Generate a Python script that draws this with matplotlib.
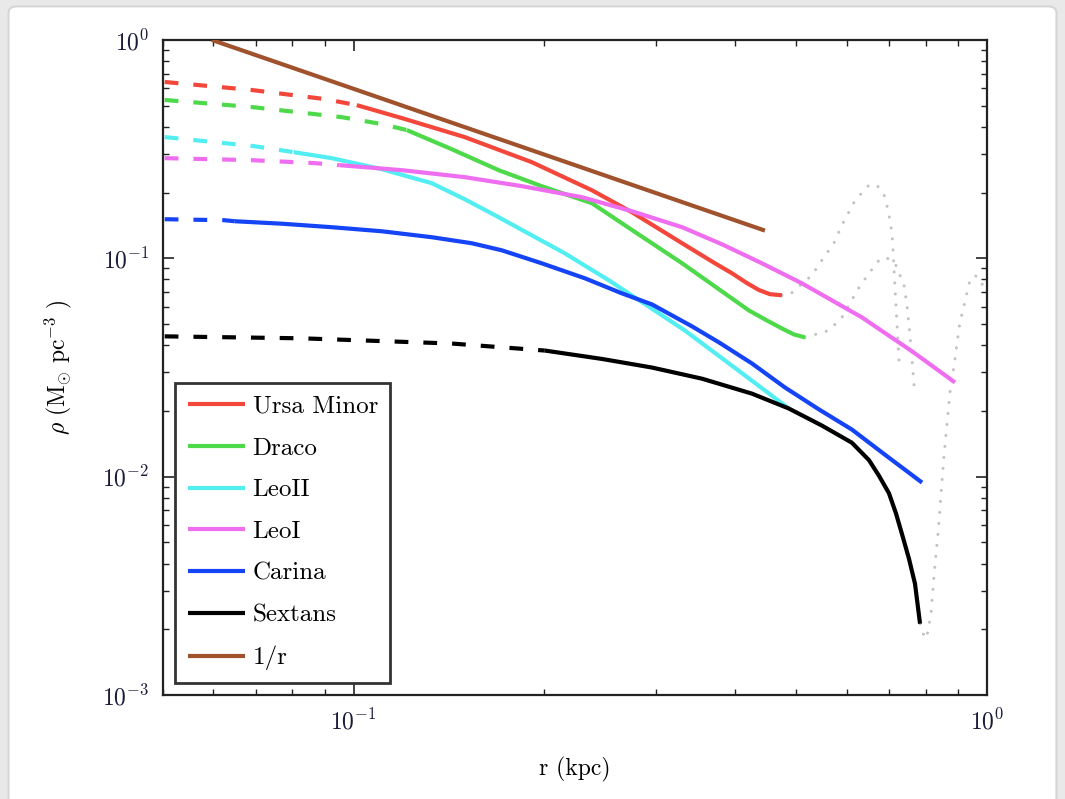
import matplotlib
matplotlib.use("Agg")
import matplotlib.pyplot as plt
from matplotlib.patches import FancyBboxPatch

plt.rcParams['font.family'] = 'serif'
plt.rcParams['font.serif'] = ['cmr10', 'DejaVu Serif']
plt.rcParams['mathtext.fontset'] = 'cm'
plt.rcParams['axes.formatter.use_mathtext'] = True

# ---------------- data (r in kpc, rho in Msun/pc^3) ----------------
labels = ["Ursa Minor", "Draco", "LeoII", "LeoI", "Carina", "Sextans", "1/r"]
colors = ["#f2473a", "#4ed94a", "#52eef2", "#ef6ef0", "#1444f5", "#000000", "#a0522d"]

# Ursa Minor
r_um_ext = [0.0503, 0.069, 0.090, 0.1011]
rho_um_ext = [0.642, 0.590, 0.536, 0.503]
r_um = [0.1011, 0.1191, 0.1497, 0.191, 0.2377, 0.2749, 0.330, 0.3718, 0.3956,
        0.4177, 0.4362, 0.454, 0.4745]
rho_um = [0.503, 0.4387, 0.359, 0.2757, 0.205, 0.1626, 0.1172, 0.0949, 0.0854,
          0.0770, 0.0716, 0.0685, 0.0677]
r_um_tail = [0.4745, 0.4866, 0.529, 0.5485, 0.573, 0.590, 0.619, 0.651, 0.670,
             0.688, 0.698, 0.708, 0.726]
rho_um_tail = [0.0677, 0.0677, 0.0836, 0.0979, 0.1172, 0.1417, 0.1845, 0.2163,
               0.2163, 0.1945, 0.166, 0.1302, 0.0340]

# Draco
r_dr_ext = [0.0503, 0.069, 0.0957, 0.1107, 0.1213]
rho_dr_ext = [0.531, 0.493, 0.443, 0.412, 0.3866]
r_dr = [0.1213, 0.1428, 0.1694, 0.198, 0.2377, 0.280, 0.330, 0.4207, 0.4492,
        0.4745, 0.4956, 0.516]
rho_dr = [0.3866, 0.316, 0.2533, 0.214, 0.1788, 0.1302, 0.0949, 0.0577, 0.0519,
          0.0477, 0.0448, 0.0434]
r_dr_tail = [0.516, 0.5627, 0.590, 0.6075, 0.628, 0.651, 0.675, 0.692, 0.7157,
             0.7395, 0.7475, 0.7557, 0.767]
rho_dr_tail = [0.0434, 0.0467, 0.0536, 0.0622, 0.0736, 0.0854, 0.0979, 0.1011,
               0.0949, 0.0752, 0.0609, 0.0443, 0.0262]

# LeoII
r_l2_ext = [0.0503, 0.0695, 0.0804]
rho_l2_ext = [0.359, 0.3265, 0.3063]
r_l2 = [0.0804, 0.0923, 0.1107, 0.1328, 0.1497, 0.1694, 0.191, 0.2154, 0.2528,
        0.2903, 0.3333, 0.4027, 0.4866]
rho_l2 = [0.3063, 0.2875, 0.256, 0.2208, 0.1865, 0.1542, 0.1275, 0.1054, 0.0793,
          0.0609, 0.0467, 0.031, 0.0205]

# LeoI
r_l1_ext = [0.0503, 0.069, 0.0868, 0.0950]
rho_l1_ext = [0.2875, 0.2815, 0.2728, 0.267]
r_l1 = [0.0950, 0.1191, 0.1497, 0.1842, 0.2292, 0.2749, 0.330, 0.3815, 0.441,
        0.5101, 0.6346, 0.7613, 0.890]
rho_l1 = [0.267, 0.2533, 0.2353, 0.214, 0.1905, 0.1643, 0.1388, 0.1159, 0.0949,
          0.0768, 0.0536, 0.0375, 0.0270]

# Carina
r_ca_ext = [0.0503, 0.0625, 0.0649]
rho_ca_ext = [0.151, 0.1494, 0.1478]
r_ca = [0.0649, 0.0770, 0.0923, 0.1107, 0.1328, 0.1536, 0.1713, 0.198, 0.2317,
        0.2651, 0.2957, 0.342, 0.3773, 0.4253, 0.4797, 0.543, 0.6118, 0.695, 0.7896]
rho_ca = [0.1478, 0.144, 0.1388, 0.133, 0.1249, 0.1172, 0.1088, 0.0949, 0.0810,
          0.0691, 0.0615, 0.0488, 0.0412, 0.0330, 0.0256, 0.0203, 0.01643, 0.0124,
          0.00939]

# Sextans
r_se_ext = [0.0503, 0.0828, 0.1428, 0.2003]
rho_se_ext = [0.0439, 0.0430, 0.0407, 0.0378]
r_se = [0.2003, 0.2465, 0.2957, 0.3546, 0.4253, 0.4866, 0.5485, 0.6118, 0.651,
        0.675, 0.700, 0.718, 0.7337, 0.753, 0.7696, 0.7838]
rho_se = [0.0378, 0.0346, 0.0316, 0.0281, 0.0240, 0.0205, 0.01714, 0.01430,
          0.01190, 0.0101, 0.00840, 0.00680, 0.00548, 0.0042, 0.00323, 0.00212]
r_se_tail = [0.7838, 0.798, 0.8039, 0.8157, 0.8248, 0.8367, 0.8459, 0.855, 0.8645,
             0.874, 0.887, 0.897, 0.906, 0.920, 0.937, 0.954, 0.971, 0.993]
rho_se_tail = [0.00212, 0.00181, 0.00187, 0.00235, 0.00355, 0.00548, 0.00827, 0.01235,
               0.0175, 0.0243, 0.0323, 0.0412, 0.0509, 0.0609, 0.0768, 0.0836, 0.0818,
               0.0713]

# 1/r reference
r_ref = [0.0597, 0.1, 0.2, 0.3, 0.446]
rho_ref = [1.0, 0.597, 0.2985, 0.199, 0.1339]

# ---------------- figure ----------------
fig = plt.figure(figsize=(10.65, 7.99), dpi=100)
fig.patch.set_facecolor("#e9e9e9")
fig.patches.append(FancyBboxPatch((0.008, -0.02), 0.984, 1.012,
                                  boxstyle="round,pad=0,rounding_size=0.008",
                                  transform=fig.transFigure, facecolor="white",
                                  edgecolor="#d6d6d6", linewidth=1.5, zorder=-10))

ax = fig.add_axes([0.1531, 0.1302, 0.7737, 0.8198])
ax.set_xscale("log")
ax.set_yscale("log")
ax.set_xlim(0.05, 1.0)
ax.set_ylim(1e-3, 1.0)

lw = 3.0
dash = (0, (3.3, 3.6))
gray = "#c2c2c2"
dot = (0, (0.01, 3.6))

groups = [
    (r_um_ext, rho_um_ext, r_um, rho_um, colors[0], labels[0]),
    (r_dr_ext, rho_dr_ext, r_dr, rho_dr, colors[1], labels[1]),
    (r_l2_ext, rho_l2_ext, r_l2, rho_l2, colors[2], labels[2]),
    (r_l1_ext, rho_l1_ext, r_l1, rho_l1, colors[3], labels[3]),
    (r_ca_ext, rho_ca_ext, r_ca, rho_ca, colors[4], labels[4]),
    (r_se_ext, rho_se_ext, r_se, rho_se, colors[5], labels[5]),
]

for rt, pt in [(r_um_tail, rho_um_tail), (r_dr_tail, rho_dr_tail), (r_se_tail, rho_se_tail)]:
    ax.plot(rt, pt, color=gray, lw=2.2, linestyle=dot, dash_capstyle="round", zorder=1)

handles = []
for re_, pe_, rs, ps, c, lab in groups:
    ax.plot(re_, pe_, color=c, lw=lw, linestyle=dash, dash_capstyle="butt", zorder=2)
    h, = ax.plot(rs, ps, color=c, lw=lw, solid_capstyle="butt", solid_joinstyle="round",
                 label=lab, zorder=3)
    handles.append(h)
h, = ax.plot(r_ref, rho_ref, color=colors[6], lw=lw, solid_capstyle="butt",
             label=labels[6], zorder=3)
handles.append(h)

for s in ax.spines.values():
    s.set_linewidth(1.6)
    s.set_color("#222222")

ax.tick_params(which="both", direction="in", top=True, right=True, colors="#222222",
               labelcolor="#1a1a3a")
ax.tick_params(which="major", length=8, width=1.2, labelsize=17, pad=10)
ax.tick_params(which="minor", length=4, width=1.0)

ax.set_xlabel("r (kpc)", fontsize=17, labelpad=16)
ax.set_ylabel(r"$\rho\ (\mathrm{M}_{\odot}\ \mathrm{pc}^{-3}\ )$", fontsize=17, labelpad=20)

leg = ax.legend(handles=handles, loc="lower left", bbox_to_anchor=(0.0146, 0.0183),
                borderaxespad=0, fontsize=18, handlelength=2.28, handletextpad=0.32,
                labelspacing=0.77, borderpad=0.5, fancybox=False, framealpha=1)
leg.get_frame().set_edgecolor("#333333")
leg.get_frame().set_linewidth(2.0)

fig.savefig("out.png", dpi=100, facecolor=fig.get_facecolor())
